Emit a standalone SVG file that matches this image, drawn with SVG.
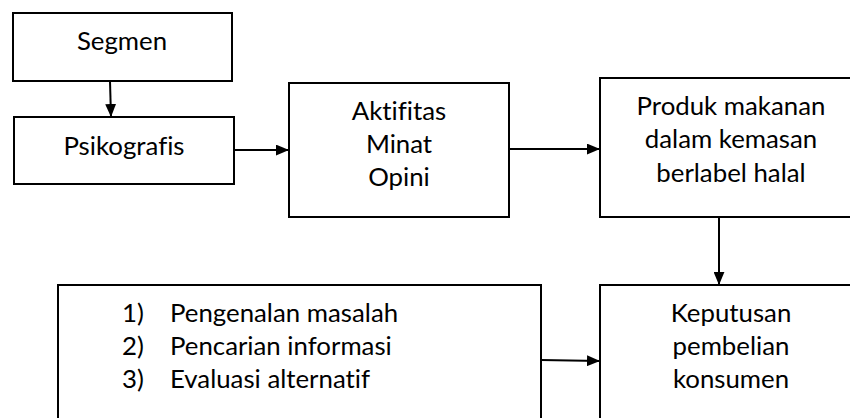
<svg xmlns="http://www.w3.org/2000/svg" width="850" height="418" viewBox="0 0 850 418">
<style>
.box{fill:#fff;stroke:#000;stroke-width:2}
.t{font-family:Lato,"Liberation Sans",sans-serif;font-size:25.8px;fill:#000;font-variant-ligatures:none}
.c{text-anchor:middle}
.ln{stroke:#000;stroke-width:2;fill:none}
</style>
<defs>
<marker id="ah" viewBox="0 0 12 10" refX="12" refY="5" markerWidth="13" markerHeight="11" markerUnits="userSpaceOnUse" orient="auto">
<path d="M0,0 L12,5 L0,10 Z" fill="#000"/>
</marker>
</defs>
<rect width="850" height="418" fill="#fff"/>
<g id="segmen"><rect class="box" x="13" y="13" width="219" height="68"/><text class="t c" x="122" y="50">Segmen</text></g>
<g id="psikografis"><rect class="box" x="14" y="117" width="220" height="67"/><text class="t c" x="124" y="155">Psikografis</text></g>
<g id="aktifitas"><rect class="box" x="289" y="83" width="220" height="134"/>
<text class="t c" x="399" y="120">Aktifitas</text><text class="t c" x="399" y="153">Minat</text><text class="t c" x="399" y="186">Opini</text></g>
<g id="produk"><rect class="box" x="600" y="78" width="262" height="139"/>
<text class="t c" x="731" y="115">Produk makanan</text><text class="t c" x="731" y="148">dalam kemasan</text><text class="t c" x="731" y="182">berlabel halal</text></g>
<g id="proses"><rect class="box" x="58" y="285" width="483" height="140"/>
<text class="t" x="122" y="322">1)</text><text class="t" x="170" y="322">Pengenalan masalah</text>
<text class="t" x="122" y="355">2)</text><text class="t" x="170" y="355">Pencarian informasi</text>
<text class="t" x="122" y="388">3)</text><text class="t" x="170" y="388">Evaluasi alternatif</text></g>
<g id="keputusan"><rect class="box" x="600" y="285" width="262" height="140"/>
<text class="t c" x="731" y="322">Keputusan</text><text class="t c" x="731" y="355">pembelian</text><text class="t c" x="731" y="388">konsumen</text></g>
<g id="connectors">
<line class="ln" x1="110" y1="81" x2="111" y2="117" marker-end="url(#ah)"/>
<line class="ln" x1="234" y1="150" x2="289" y2="150" marker-end="url(#ah)"/>
<line class="ln" x1="509" y1="149" x2="600" y2="149" marker-end="url(#ah)"/>
<line class="ln" x1="719" y1="217" x2="719" y2="285" marker-end="url(#ah)"/>
<line class="ln" x1="541" y1="360" x2="600" y2="361" marker-end="url(#ah)"/>
</g>
</svg>
